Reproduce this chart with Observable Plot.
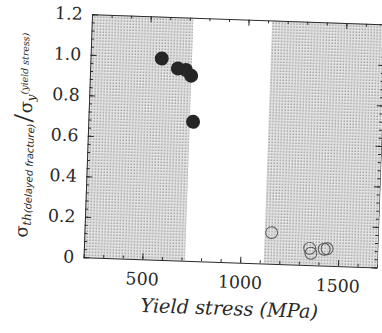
<!DOCTYPE html>
<html><head><meta charset="utf-8">
<script src="https://cdn.jsdelivr.net/npm/d3@7"></script>
<script src="https://cdn.jsdelivr.net/npm/@observablehq/plot@0.6"></script>
<style>html,body{margin:0;padding:0;overflow:hidden;background:#fff;width:382px;height:333px}</style>
</head><body><div id="chart"></div>
<script>
// Data
const filledX = [561, 645, 686, 714, 732];          // yield stress (MPa)
const filledY = [0.996, 0.950, 0.944, 0.916, 0.689]; // sigma_th / sigma_y
const openX = [1153, 1350, 1357, 1424, 1439];
const openY = [0.156, 0.085, 0.061, 0.083, 0.086];
const shadeStart = [200, 1120];
const shadeEnd = [718, 1700];
const xTickLabels = [500, 1000, 1500];
const yTickLabels = [0, 0.2, 0.4, 0.6, 0.8, 1.0, 1.2];
const xTitle = "Yield stress (MPa)";
const yTitleParts = ["σ", "th", "(delayed fracture)", "/", "σ", "y", "(yield stress)"];

const filled = filledX.map((x, i) => ({x, y: filledY[i]}));
const open = openX.map((x, i) => ({x, y: openY[i]}));
const shades = shadeStart.map((a, i) => ({a, b: shadeEnd[i]}));
const xMinor = d3.range(200, 1701, 100);
const yMinor = d3.range(0, 1.2001, 0.04);

const W = 385, Hh = 333;
const mL = 88.4, mR = 0.6, mT = 19.5, mB = 68.5;
const FW = W - mL - mR, FH = Hh - mT - mB;
const ink = "#2a2a2a";
const SERIF = "DejaVu Serif";
const SANS = "DejaVu Sans";

const svg = Plot.plot({
  width: W, height: Hh,
  marginLeft: mL, marginRight: mR, marginTop: mT, marginBottom: mB,
  style: {background: "transparent", color: ink},
  x: {domain: [200, 1700]},
  y: {domain: [0, 1.2]},
  marks: [
    Plot.rect(shades, {x1: "a", x2: "b", fill: "url(#stipple)"}),
    Plot.tickX(xMinor, {x: d => d, insetTop: FH - 3, stroke: ink}),
    Plot.tickX(xMinor, {x: d => d, insetBottom: FH - 3, stroke: ink}),
    Plot.tickX(xTickLabels, {x: d => d, insetTop: FH - 6, stroke: ink}),
    Plot.tickX(xTickLabels, {x: d => d, insetBottom: FH - 6, stroke: ink}),
    Plot.tickY(yMinor, {y: d => d, insetRight: FW - 3, stroke: ink}),
    Plot.tickY(yMinor, {y: d => d, insetLeft: FW - 3, stroke: ink}),
    Plot.tickY(yTickLabels, {y: d => d, insetRight: FW - 6, stroke: ink}),
    Plot.tickY(yTickLabels, {y: d => d, insetLeft: FW - 6, stroke: ink}),
    Plot.frame({stroke: ink, strokeWidth: 1}),
    Plot.dot(filled, {x: "x", y: "y", r: 6.3, fill: "#262626", stroke: "#262626"}),
    Plot.dot(open, {x: "x", y: "y", r: 6, fill: "none", stroke: "#555", strokeWidth: 1}),
    Plot.axisX(xTickLabels, {anchor: "bottom", tickSize: 0, tickPadding: 13, fontSize: 17.5, fontFamily: SERIF,
      label: null, fill: ink, tickFormat: d => String(d)}),
    Plot.axisY(yTickLabels, {anchor: "left", tickSize: 0, tickPadding: 10, fontSize: 17.5, fontFamily: SERIF,
      label: null, fill: ink, tickFormat: d => d === 0 ? "0" : d.toFixed(1)}),
    Plot.text([xTitle], {text: d => d, frameAnchor: "bottom", lineAnchor: "bottom", dy: 52.7, fontFamily: SERIF,
      fontSize: 19.5, fontStyle: "italic", fill: ink})
  ]
});

const s = d3.select(svg);
s.insert("defs", ":first-child").html(
  '<pattern id="stipple" width="3" height="3" patternUnits="userSpaceOnUse">' +
  '<rect width="3" height="3" fill="#e4e4e4"/><rect x="0.5" y="0.5" width="1.5" height="1.5" fill="#a0a0a0"/></pattern>');

const lab = s.append("text")
  .attr("transform", "translate(31,247) rotate(-90)")
  .attr("fill", ink)
  .attr("font-family", SERIF)
  .attr("text-anchor", "start");
lab.append("tspan").attr("font-size", 18).text(yTitleParts[0]);
lab.append("tspan").attr("font-size", 12).attr("font-style", "italic").attr("dy", 3).text(yTitleParts[1]);
lab.append("tspan").attr("font-family", SANS).attr("font-size", 10).attr("font-style", "italic").text(yTitleParts[2]);
lab.append("tspan").attr("font-size", 24).attr("dy", -3).attr("dx", 1).text(yTitleParts[3]);
lab.append("tspan").attr("font-size", 18).attr("dx", 1).text(yTitleParts[4]);
lab.append("tspan").attr("font-size", 12).attr("font-style", "italic").attr("dy", 3).text(yTitleParts[5]);
lab.append("tspan").attr("font-size", 9.5).attr("font-style", "italic").attr("dy", -8).text(yTitleParts[6]);

svg.style.transform = "rotate(2deg)";
svg.style.transformOrigin = "236.4px 142px";
svg.style.display = "block";
document.getElementById("chart").appendChild(svg);
</script>
</body></html>
